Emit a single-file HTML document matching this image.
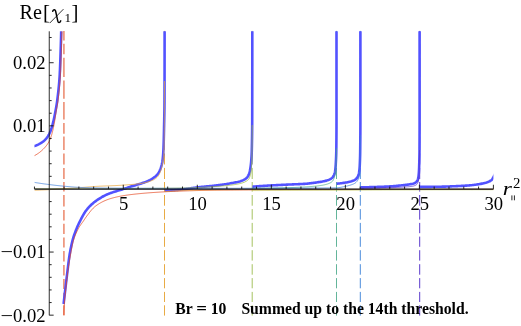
<!DOCTYPE html>
<html><head><meta charset="utf-8"><title>Re[chi1]</title>
<style>
html,body{margin:0;padding:0;background:#fff;}
body{width:521px;height:326px;overflow:hidden;font-family:"Liberation Serif",serif;}
svg{display:block;will-change:transform;}
</style></head><body>
<svg width="521" height="326" viewBox="0 0 521 326">
<rect width="521" height="326" fill="#fff"/>
<path d="M63.9 30.9 V40.6 M63.9 43.7 V54.3 M63.9 57.8 V77 M63.9 80.6 V98.7 M63.9 102 V119.5 M63.9 122.9 V133.8 M63.9 136.6 V150.1 M63.9 153.4 V164.5 M63.9 167.9 V179 M63.9 182 V191.6 M63.9 195 V206.5 M63.9 209.9 V220.4 M63.9 223.7 V234 M63.9 237.4 V247.6 M63.9 251 V261.4 M63.9 265 V275.5 M63.9 278.9 V289.1 M63.9 292.7 V302 M63.9 305.3 V315.6" stroke="#ee957c" stroke-width="1.7" fill="none"/>
<path d="M164.5 30.9 V40.6 M164.5 43.7 V54.3 M164.5 57.8 V77 M164.5 80.6 V98.7 M164.5 102 V119.5 M164.5 122.9 V133.8 M164.5 136.6 V150.1 M164.5 153.4 V164.5 M164.5 167.9 V179 M164.5 182 V191.6 M164.5 195 V205.7 M164.5 209.1 V219.6 M164.5 222.9 V233.2 M164.5 236.6 V246.8 M164.5 250.2 V260.6 M164.5 264.2 V274.7 M164.5 278.1 V288.3 M164.5 291.9 V302 M164.5 305.3 V315.6" stroke="#e8ab45" stroke-width="1.0" fill="none"/>
<path d="M252.2 30.9 V40.6 M252.2 43.7 V54.3 M252.2 57.8 V77 M252.2 80.6 V98.7 M252.2 102 V119.5 M252.2 122.9 V133.8 M252.2 136.6 V150.1 M252.2 153.4 V164.5 M252.2 167.9 V179 M252.2 182 V191.6 M252.2 195 V205.7 M252.2 209.1 V219.6 M252.2 222.9 V233.2 M252.2 236.6 V246.8 M252.2 250.2 V260.6 M252.2 264.2 V274.7 M252.2 278.1 V288.3 M252.2 291.9 V302 M252.2 305.3 V315.6" stroke="#a6c260" stroke-width="1.0" fill="none"/>
<path d="M336.5 30.9 V40.6 M336.5 43.7 V54.3 M336.5 57.8 V77 M336.5 80.6 V98.7 M336.5 102 V119.5 M336.5 122.9 V133.8 M336.5 136.6 V150.1 M336.5 153.4 V164.5 M336.5 167.9 V179 M336.5 182 V191.6 M336.5 195 V205.7 M336.5 209.1 V219.6 M336.5 222.9 V233.2 M336.5 236.6 V246.8 M336.5 250.2 V260.6 M336.5 264.2 V274.7 M336.5 278.1 V288.3 M336.5 291.9 V302 M336.5 305.3 V315.6" stroke="#63b59a" stroke-width="1.0" fill="none"/>
<path d="M360.3 30.9 V40.6 M360.3 43.7 V54.3 M360.3 57.8 V77 M360.3 80.6 V98.7 M360.3 102 V119.5 M360.3 122.9 V133.8 M360.3 136.6 V150.1 M360.3 153.4 V164.5 M360.3 167.9 V179 M360.3 182 V191.6 M360.3 195 V205.7 M360.3 209.1 V219.6 M360.3 222.9 V233.2 M360.3 236.6 V246.8 M360.3 250.2 V260.6 M360.3 264.2 V274.7 M360.3 278.1 V288.3 M360.3 291.9 V302 M360.3 305.3 V315.6" stroke="#4a8bdb" stroke-width="1.0" fill="none"/>
<path d="M419.7 30.9 V40.6 M419.7 43.7 V54.3 M419.7 57.8 V77 M419.7 80.6 V98.7 M419.7 102 V119.5 M419.7 122.9 V133.8 M419.7 136.6 V150.1 M419.7 153.4 V164.5 M419.7 167.9 V179 M419.7 182 V191.6 M419.7 195 V205.7 M419.7 209.1 V219.6 M419.7 222.9 V233.2 M419.7 236.6 V246.8 M419.7 250.2 V260.6 M419.7 264.2 V274.7 M419.7 278.1 V288.3 M419.7 291.9 V302 M419.7 305.3 V315.6" stroke="#5b3acc" stroke-width="1.0" fill="none"/>
<clipPath id="c"><rect x="34.45" y="31.3" width="458.95" height="284"/></clipPath><g clip-path="url(#c)">
<path d="M33.3 146.4 L34.29 146.1 L35.27 145.77 L36.22 145.41 L37.16 145.01 L38.08 144.59 L38.98 144.14 L39.86 143.67 L40.73 143.18 L41.6 142.63 L42.45 142.05 L43.27 141.43 L44.06 140.77 L44.8 140.09 L45.5 139.39 L46.17 138.63 L46.81 137.84 L47.43 137 L48 136.15 L48.53 135.27 L49.01 134.4 L49.45 133.5 L49.87 132.58 L50.26 131.65 L50.64 130.69 L50.99 129.73 L51.32 128.76 L51.64 127.79 L51.94 126.82 L52.22 125.85 L52.49 124.88 L52.75 123.9 L53 122.92 L53.24 121.93 L53.47 120.94 L53.7 119.95 L53.92 118.96 L54.13 117.96 L54.34 116.96 L54.54 115.97 L54.74 114.97 L54.93 113.97 L55.13 112.97 L55.32 111.98 L55.51 110.98 L55.7 109.99 L55.88 108.99 L56.06 107.99 L56.24 106.99 L56.41 105.99 L56.57 104.98 L56.74 103.98 L56.89 102.98 L57.04 101.97 L57.17 100.97 L57.3 99.96 L57.43 98.96 L57.55 97.95 L57.68 96.95 L57.8 95.94 L57.92 94.93 L58.03 93.92 L58.15 92.91 L58.26 91.91 L58.37 90.9 L58.48 89.89 L58.58 88.88 L58.68 87.86 L58.78 86.85 L58.88 85.84 L58.97 84.83 L59.06 83.82 L59.15 82.81 L59.23 81.8 L59.31 80.78 L59.39 79.77 L59.46 78.76 L59.53 77.75 L59.6 76.73 L59.66 75.72 L59.72 74.71 L59.77 73.7 L59.82 72.68 L59.87 71.67 L59.92 70.66 L59.97 69.65 L60.01 68.63 L60.05 67.62 L60.09 66.6 L60.13 65.59 L60.17 64.57 L60.21 63.56 L60.24 62.55 L60.28 61.53 L60.31 60.52 L60.35 59.5 L60.38 58.49 L60.42 57.47 L60.45 56.46 L60.48 55.44 L60.52 54.43 L60.55 53.42 L60.59 52.4 L60.62 51.39 L60.65 50.37 L60.69 49.36 L60.72 48.34 L60.75 47.33 L60.78 46.32 L60.81 45.3 L60.84 44.29 L60.87 43.27 L60.9 42.26 L60.93 41.24 L60.96 40.23 L60.99 39.22 L61.02 38.2 L61.05 37.19 L61.07 36.17 L61.1 35.16 L61.13 34.14 L61.15 33.13 L61.18 32.11 L61.2 31.1" stroke="#5252ff" stroke-width="2.6" fill="none" stroke-linejoin="round" stroke-linecap="butt"/>
<path d="M63.6 304 L63.71 303 L63.83 302 L63.94 301 L64.06 300 L64.17 299 L64.29 298 L64.4 297.01 L64.52 296.01 L64.63 295.01 L64.75 294.01 L64.87 293.01 L64.98 292.01 L65.1 291.01 L65.22 290.01 L65.33 289.01 L65.45 288.01 L65.57 287.01 L65.68 286.02 L65.8 285.02 L65.92 284.02 L66.03 283.02 L66.15 282.02 L66.27 281.02 L66.39 280.02 L66.51 279.02 L66.63 278.02 L66.75 277.03 L66.87 276.03 L66.99 275.03 L67.11 274.03 L67.23 273.03 L67.35 272.03 L67.47 271.03 L67.6 270.04 L67.72 269.04 L67.84 268.04 L67.96 267.04 L68.08 266.04 L68.2 265.04 L68.32 264.04 L68.44 263.04 L68.56 262.04 L68.69 261.05 L68.82 260.05 L68.95 259.05 L69.09 258.06 L69.24 257.06 L69.39 256.07 L69.55 255.08 L69.71 254.08 L69.88 253.09 L70.05 252.1 L70.23 251.11 L70.41 250.11 L70.6 249.12 L70.79 248.13 L70.99 247.14 L71.2 246.16 L71.41 245.17 L71.63 244.19 L71.86 243.21 L72.09 242.24 L72.33 241.26 L72.58 240.29 L72.83 239.33 L73.11 238.36 L73.4 237.4 L73.7 236.44 L74.02 235.49 L74.34 234.53 L74.68 233.58 L75.03 232.63 L75.38 231.69 L75.74 230.75 L76.11 229.81 L76.49 228.87 L76.86 227.94 L77.24 227.01 L77.64 226.09 L78.06 225.18 L78.48 224.26 L78.92 223.36 L79.37 222.45 L79.82 221.55 L80.27 220.66 L80.73 219.76 L81.18 218.86 L81.64 217.95 L82.11 217.06 L82.59 216.16 L83.07 215.28 L83.57 214.4 L84.08 213.54 L84.61 212.69 L85.16 211.86 L85.73 211.04 L86.33 210.23 L86.95 209.44 L87.59 208.65 L88.25 207.88 L88.92 207.13 L89.61 206.4 L90.31 205.69 L91.03 205 L91.77 204.32 L92.53 203.65 L93.3 202.99 L94.08 202.36 L94.88 201.73 L95.69 201.12 L96.51 200.53 L97.33 199.95 L98.15 199.4 L98.99 198.84 L99.84 198.3 L100.7 197.77 L101.57 197.25 L102.45 196.75 L103.34 196.26 L104.23 195.79 L105.13 195.34 L106.03 194.91 L106.94 194.51 L107.86 194.12 L108.8 193.75 L109.74 193.39 L110.69 193.05 L111.64 192.72 L112.6 192.39 L113.55 192.07 L114.51 191.76 L115.47 191.44 L116.43 191.14 L117.39 190.84 L118.35 190.56 L119.32 190.28 L120.28 190 L121.25 189.71 L122.21 189.43 L123.18 189.13 L124.13 188.83 L125.09 188.52 L126.04 188.2 L127 187.87 L127.95 187.54 L128.9 187.22 L129.85 186.9 L130.81 186.58 L131.76 186.27 L132.73 185.98 L133.69 185.69 L134.66 185.42 L135.63 185.14 L136.59 184.87 L137.56 184.6 L138.53 184.31 L139.49 184.02 L140.45 183.72 L141.41 183.41 L142.37 183.1 L143.32 182.78 L144.28 182.45 L145.22 182.11 L146.16 181.75 L147.08 181.36 L148 180.96 L148.92 180.53 L149.83 180.08 L150.72 179.6 L151.6 179.1 L152.44 178.57 L153.26 178.01 L154.09 177.42 L154.91 176.79 L155.71 176.13 L156.46 175.43 L157.15 174.71 L157.76 173.96 L158.31 173.17 L158.82 172.32 L159.31 171.42 L159.76 170.5 L160.18 169.55 L160.55 168.6 L160.88 167.65 L161.18 166.71 L161.46 165.74 L161.72 164.76 L161.95 163.77 L162.16 162.78 L162.33 161.79 L162.47 160.8 L162.59 159.81 L162.71 158.81 L162.82 157.81 L162.92 156.81 L163.01 155.81 L163.1 154.8 L163.17 153.79 L163.24 152.79 L163.31 151.78 L163.36 150.78 L163.41 149.77 L163.46 148.77 L163.5 147.77 L163.54 146.76 L163.58 145.76 L163.61 144.75 L163.65 143.75 L163.68 142.74 L163.71 141.74 L163.74 140.73 L163.77 139.72 L163.8 138.72 L163.82 137.71 L163.85 136.71 L163.87 135.7 L163.9 134.69 L163.92 133.69 L163.94 132.68 L163.96 131.68 L163.99 130.67 L164.01 129.67 L164.03 128.66 L164.05 127.65 L164.07 126.65 L164.1 125.64 L164.12 124.64 L164.14 123.63 L164.16 122.63 L164.19 121.62 L164.21 120.62 L164.23 119.61 L164.25 118.6 L164.27 117.6 L164.29 116.59 L164.31 115.59 L164.33 114.58 L164.35 113.58 L164.36 112.57 L164.38 111.56 L164.4 110.56 L164.41 109.55 L164.43 108.55 L164.44 107.54 L164.45 106.54 L164.46 105.53 L164.47 104.52 L164.48 103.52 L164.49 102.51 L164.49 101.51 L164.5 100.5 L164.5 99.5 L164.5 98.49 L164.51 97.48 L164.51 96.48 L164.51 95.47 L164.52 94.47 L164.52 93.46 L164.52 92.46 L164.52 91.45 L164.53 90.44 L164.53 89.44 L164.53 88.43 L164.53 87.43 L164.54 86.42 L164.54 85.41 L164.54 84.41 L164.54 83.4 L164.55 82.4 L164.55 81.39 L164.55 80.39 L164.55 79.38 L164.55 78.37 L164.56 77.37 L164.56 76.36 L164.56 75.36 L164.56 74.35 L164.56 73.35 L164.57 72.34 L164.57 71.33 L164.57 70.33 L164.57 69.32 L164.57 68.32 L164.57 67.31 L164.57 66.3 L164.58 65.3 L164.58 64.29 L164.58 63.29 L164.58 62.28 L164.58 61.28 L164.58 60.27 L164.58 59.26 L164.59 58.26 L164.59 57.25 L164.59 56.25 L164.59 55.24 L164.59 54.24 L164.59 53.23 L164.59 52.22 L164.59 51.22 L164.59 50.21 L164.59 49.21 L164.59 48.2 L164.59 47.19 L164.6 46.19 L164.6 45.18 L164.6 44.18 L164.6 43.17 L164.6 42.16 L164.6 41.16 L164.6 40.15 L164.6 39.15 L164.6 38.14 L164.6 37.14 L164.6 36.13 L164.6 35.12 L164.6 34.12 L164.6 33.11 L164.6 32.11 L164.6 31.1" stroke="#5252ff" stroke-width="2.6" fill="none" stroke-linejoin="round" stroke-linecap="butt"/>
<path d="M164.8 190.7 L165.81 190.66 L166.81 190.62 L167.81 190.57 L168.82 190.52 L169.82 190.46 L170.83 190.4 L171.83 190.34 L172.83 190.27 L173.83 190.2 L174.83 190.13 L175.83 190.05 L176.84 189.97 L177.84 189.89 L178.84 189.8 L179.83 189.71 L180.83 189.62 L181.83 189.52 L182.83 189.41 L183.82 189.28 L184.82 189.15 L185.81 189.02 L186.81 188.87 L187.8 188.73 L188.8 188.58 L189.79 188.43 L190.79 188.28 L191.78 188.13 L192.77 187.98 L193.77 187.83 L194.76 187.69 L195.76 187.55 L196.76 187.43 L197.75 187.31 L198.75 187.19 L199.75 187.08 L200.75 186.98 L201.75 186.88 L202.75 186.78 L203.75 186.68 L204.75 186.59 L205.75 186.5 L206.75 186.4 L207.75 186.31 L208.75 186.22 L209.75 186.13 L210.75 186.03 L211.75 185.94 L212.75 185.84 L213.75 185.73 L214.75 185.63 L215.75 185.52 L216.74 185.4 L217.74 185.28 L218.74 185.16 L219.73 185.03 L220.73 184.9 L221.72 184.76 L222.72 184.62 L223.71 184.48 L224.71 184.33 L225.7 184.17 L226.69 184.01 L227.69 183.85 L228.67 183.68 L229.66 183.5 L230.65 183.32 L231.64 183.14 L232.65 182.95 L233.66 182.77 L234.67 182.58 L235.68 182.37 L236.68 182.16 L237.68 181.94 L238.66 181.7 L239.63 181.44 L240.57 181.16 L241.5 180.85 L242.4 180.52 L243.28 180.14 L244.2 179.67 L245.12 179.11 L245.99 178.49 L246.78 177.81 L247.44 177.09 L247.95 176.36 L248.38 175.53 L248.77 174.62 L249.12 173.65 L249.42 172.64 L249.69 171.61 L249.92 170.61 L250.11 169.63 L250.29 168.65 L250.45 167.66 L250.6 166.67 L250.74 165.67 L250.86 164.66 L250.98 163.66 L251.08 162.66 L251.16 161.65 L251.24 160.65 L251.32 159.65 L251.39 158.65 L251.45 157.65 L251.52 156.65 L251.57 155.64 L251.63 154.64 L251.67 153.64 L251.72 152.63 L251.75 151.63 L251.78 150.62 L251.81 149.62 L251.83 148.62 L251.85 147.61 L251.88 146.61 L251.9 145.6 L251.92 144.6 L251.94 143.6 L251.96 142.59 L251.98 141.59 L251.99 140.58 L252.01 139.58 L252.03 138.58 L252.04 137.57 L252.06 136.57 L252.07 135.56 L252.09 134.56 L252.1 133.55 L252.11 132.55 L252.12 131.54 L252.13 130.54 L252.14 129.53 L252.15 128.53 L252.16 127.53 L252.17 126.52 L252.17 125.52 L252.18 124.51 L252.19 123.51 L252.19 122.5 L252.2 121.5 L252.2 120.49 L252.2 119.49 L252.2 118.49 L252.21 117.48 L252.21 116.48 L252.21 115.47 L252.21 114.47 L252.22 113.46 L252.22 112.46 L252.22 111.45 L252.22 110.45 L252.22 109.45 L252.23 108.44 L252.23 107.44 L252.23 106.43 L252.23 105.43 L252.23 104.42 L252.24 103.42 L252.24 102.42 L252.24 101.41 L252.24 100.41 L252.24 99.4 L252.24 98.4 L252.25 97.39 L252.25 96.39 L252.25 95.38 L252.25 94.38 L252.25 93.38 L252.25 92.37 L252.26 91.37 L252.26 90.36 L252.26 89.36 L252.26 88.35 L252.26 87.35 L252.26 86.34 L252.26 85.34 L252.27 84.34 L252.27 83.33 L252.27 82.33 L252.27 81.32 L252.27 80.32 L252.27 79.31 L252.27 78.31 L252.27 77.3 L252.28 76.3 L252.28 75.3 L252.28 74.29 L252.28 73.29 L252.28 72.28 L252.28 71.28 L252.28 70.27 L252.28 69.27 L252.28 68.27 L252.28 67.26 L252.29 66.26 L252.29 65.25 L252.29 64.25 L252.29 63.24 L252.29 62.24 L252.29 61.23 L252.29 60.23 L252.29 59.23 L252.29 58.22 L252.29 57.22 L252.29 56.21 L252.29 55.21 L252.29 54.2 L252.29 53.2 L252.29 52.19 L252.3 51.19 L252.3 50.19 L252.3 49.18 L252.3 48.18 L252.3 47.17 L252.3 46.17 L252.3 45.16 L252.3 44.16 L252.3 43.15 L252.3 42.15 L252.3 41.14 L252.3 40.14 L252.3 39.14 L252.3 38.13 L252.3 37.13 L252.3 36.12 L252.3 35.12 L252.3 34.11 L252.3 33.11 L252.3 32.1 L252.3 31.1" stroke="#5252ff" stroke-width="2.6" fill="none" stroke-linejoin="round" stroke-linecap="butt"/>
<path d="M252.4 186.7 L253.4 186.62 L254.4 186.54 L255.41 186.47 L256.41 186.39 L257.41 186.32 L258.42 186.24 L259.42 186.17 L260.42 186.1 L261.42 186.03 L262.43 185.96 L263.43 185.89 L264.43 185.83 L265.44 185.76 L266.44 185.7 L267.44 185.63 L268.45 185.57 L269.45 185.51 L270.45 185.45 L271.46 185.4 L272.46 185.34 L273.46 185.29 L274.47 185.23 L275.47 185.18 L276.48 185.13 L277.48 185.08 L278.48 185.03 L279.49 184.99 L280.49 184.94 L281.5 184.89 L282.5 184.85 L283.5 184.8 L284.51 184.75 L285.51 184.71 L286.52 184.66 L287.52 184.62 L288.53 184.57 L289.53 184.52 L290.53 184.48 L291.54 184.43 L292.54 184.39 L293.55 184.35 L294.55 184.31 L295.56 184.27 L296.56 184.23 L297.57 184.19 L298.57 184.14 L299.58 184.1 L300.58 184.05 L301.59 184 L302.59 183.95 L303.59 183.89 L304.6 183.83 L305.6 183.76 L306.6 183.68 L307.6 183.59 L308.6 183.49 L309.6 183.38 L310.6 183.27 L311.6 183.14 L312.6 183.01 L313.6 182.88 L314.59 182.74 L315.59 182.6 L316.58 182.45 L317.57 182.3 L318.57 182.15 L319.57 182 L320.58 181.85 L321.59 181.68 L322.6 181.5 L323.59 181.31 L324.58 181.11 L325.55 180.88 L326.51 180.63 L327.44 180.35 L328.38 180.02 L329.35 179.61 L330.31 179.13 L331.22 178.58 L332.02 177.98 L332.67 177.34 L333.21 176.61 L333.71 175.74 L334.15 174.78 L334.52 173.78 L334.8 172.78 L334.98 171.81 L335.13 170.84 L335.27 169.85 L335.38 168.85 L335.48 167.84 L335.57 166.83 L335.65 165.81 L335.72 164.8 L335.78 163.79 L335.83 162.79 L335.89 161.78 L335.94 160.78 L335.99 159.78 L336.04 158.77 L336.08 157.77 L336.12 156.76 L336.16 155.76 L336.19 154.75 L336.22 153.75 L336.25 152.74 L336.27 151.74 L336.29 150.73 L336.3 149.73 L336.32 148.72 L336.33 147.72 L336.34 146.71 L336.35 145.71 L336.36 144.7 L336.37 143.7 L336.38 142.69 L336.39 141.68 L336.4 140.68 L336.41 139.67 L336.42 138.67 L336.43 137.66 L336.43 136.66 L336.44 135.65 L336.45 134.65 L336.46 133.64 L336.46 132.64 L336.47 131.63 L336.47 130.63 L336.48 129.62 L336.48 128.62 L336.49 127.61 L336.49 126.6 L336.49 125.6 L336.49 124.59 L336.5 123.59 L336.5 122.58 L336.5 121.58 L336.5 120.57 L336.5 119.57 L336.5 118.56 L336.5 117.56 L336.5 116.55 L336.5 115.55 L336.5 114.54 L336.5 113.54 L336.5 112.53 L336.5 111.52 L336.5 110.52 L336.5 109.51 L336.5 108.51 L336.5 107.5 L336.5 106.5 L336.5 105.49 L336.5 104.49 L336.5 103.48 L336.5 102.48 L336.5 101.47 L336.5 100.47 L336.5 99.46 L336.5 98.46 L336.5 97.45 L336.5 96.45 L336.5 95.44 L336.5 94.43 L336.5 93.43 L336.5 92.42 L336.5 91.42 L336.5 90.41 L336.5 89.41 L336.5 88.4 L336.5 87.4 L336.5 86.39 L336.5 85.39 L336.5 84.38 L336.5 83.38 L336.5 82.37 L336.5 81.37 L336.5 80.36 L336.5 79.36 L336.5 78.35 L336.5 77.34 L336.5 76.34 L336.5 75.33 L336.5 74.33 L336.5 73.32 L336.5 72.32 L336.5 71.31 L336.5 70.31 L336.5 69.3 L336.5 68.3 L336.5 67.29 L336.5 66.29 L336.5 65.28 L336.5 64.28 L336.5 63.27 L336.5 62.26 L336.5 61.26 L336.5 60.25 L336.5 59.25 L336.5 58.24 L336.5 57.24 L336.5 56.23 L336.5 55.23 L336.5 54.22 L336.5 53.22 L336.5 52.21 L336.5 51.21 L336.5 50.2 L336.5 49.2 L336.5 48.19 L336.5 47.19 L336.5 46.18 L336.5 45.17 L336.5 44.17 L336.5 43.16 L336.5 42.16 L336.5 41.15 L336.5 40.15 L336.5 39.14 L336.5 38.14 L336.5 37.13 L336.5 36.13 L336.5 35.12 L336.5 34.12 L336.5 33.11 L336.5 32.11 L336.5 31.1" stroke="#5252ff" stroke-width="2.6" fill="none" stroke-linejoin="round" stroke-linecap="butt"/>
<path d="M336.6 183.7 L337.61 183.62 L338.62 183.53 L339.62 183.42 L340.63 183.31 L341.63 183.18 L342.63 183.05 L343.63 182.91 L344.64 182.76 L345.64 182.59 L346.64 182.41 L347.63 182.21 L348.61 181.99 L349.59 181.75 L350.61 181.49 L351.63 181.19 L352.64 180.86 L353.6 180.5 L354.49 180.08 L355.28 179.62 L356.01 179.03 L356.74 178.28 L357.41 177.42 L357.97 176.5 L358.39 175.57 L358.63 174.67 L358.84 173.72 L359.02 172.75 L359.18 171.74 L359.32 170.72 L359.44 169.69 L359.54 168.65 L359.62 167.62 L359.69 166.6 L359.74 165.59 L359.79 164.58 L359.84 163.57 L359.88 162.56 L359.92 161.55 L359.96 160.54 L359.99 159.53 L360.03 158.52 L360.05 157.51 L360.08 156.5 L360.11 155.48 L360.13 154.47 L360.15 153.46 L360.17 152.45 L360.18 151.44 L360.19 150.42 L360.21 149.41 L360.22 148.4 L360.23 147.39 L360.24 146.38 L360.25 145.37 L360.26 144.36 L360.27 143.35 L360.28 142.34 L360.29 141.32 L360.3 140.31 L360.31 139.3 L360.32 138.29 L360.33 137.28 L360.33 136.27 L360.34 135.26 L360.35 134.25 L360.36 133.23 L360.36 132.22 L360.37 131.21 L360.37 130.2 L360.38 129.19 L360.38 128.18 L360.39 127.17 L360.39 126.16 L360.39 125.14 L360.4 124.13 L360.4 123.12 L360.4 122.11 L360.4 121.1 L360.4 120.09 L360.4 119.08 L360.4 118.07 L360.4 117.05 L360.4 116.04 L360.4 115.03 L360.4 114.02 L360.4 113.01 L360.4 112 L360.4 110.99 L360.4 109.98 L360.4 108.96 L360.4 107.95 L360.4 106.94 L360.4 105.93 L360.4 104.92 L360.4 103.91 L360.4 102.9 L360.4 101.89 L360.4 100.87 L360.4 99.86 L360.4 98.85 L360.4 97.84 L360.4 96.83 L360.4 95.82 L360.4 94.81 L360.4 93.8 L360.4 92.79 L360.4 91.77 L360.4 90.76 L360.4 89.75 L360.4 88.74 L360.4 87.73 L360.4 86.72 L360.4 85.71 L360.4 84.7 L360.4 83.68 L360.4 82.67 L360.4 81.66 L360.4 80.65 L360.4 79.64 L360.4 78.63 L360.4 77.62 L360.4 76.61 L360.4 75.59 L360.4 74.58 L360.4 73.57 L360.4 72.56 L360.4 71.55 L360.4 70.54 L360.4 69.53 L360.4 68.52 L360.4 67.5 L360.4 66.49 L360.4 65.48 L360.4 64.47 L360.4 63.46 L360.4 62.45 L360.4 61.44 L360.4 60.43 L360.4 59.41 L360.4 58.4 L360.4 57.39 L360.4 56.38 L360.4 55.37 L360.4 54.36 L360.4 53.35 L360.4 52.34 L360.4 51.32 L360.4 50.31 L360.4 49.3 L360.4 48.29 L360.4 47.28 L360.4 46.27 L360.4 45.26 L360.4 44.25 L360.4 43.23 L360.4 42.22 L360.4 41.21 L360.4 40.2 L360.4 39.19 L360.4 38.18 L360.4 37.17 L360.4 36.16 L360.4 35.14 L360.4 34.13 L360.4 33.12 L360.4 32.11 L360.4 31.1" stroke="#5252ff" stroke-width="2.6" fill="none" stroke-linejoin="round" stroke-linecap="butt"/>
<path d="M360.5 187.4 L361.51 187.38 L362.52 187.35 L363.53 187.33 L364.53 187.31 L365.54 187.28 L366.55 187.25 L367.56 187.23 L368.57 187.2 L369.58 187.17 L370.59 187.14 L371.59 187.11 L372.6 187.08 L373.61 187.04 L374.62 187.01 L375.63 186.98 L376.64 186.95 L377.64 186.91 L378.65 186.88 L379.66 186.85 L380.67 186.81 L381.68 186.78 L382.69 186.74 L383.7 186.7 L384.7 186.66 L385.71 186.61 L386.72 186.57 L387.73 186.52 L388.73 186.47 L389.74 186.41 L390.75 186.35 L391.75 186.28 L392.76 186.2 L393.76 186.12 L394.77 186.03 L395.77 185.93 L396.78 185.83 L397.78 185.73 L398.78 185.62 L399.79 185.52 L400.79 185.42 L401.8 185.32 L402.8 185.22 L403.81 185.12 L404.81 185.01 L405.81 184.89 L406.81 184.76 L407.81 184.63 L408.81 184.49 L409.81 184.33 L410.8 184.15 L411.79 183.95 L412.78 183.71 L413.76 183.43 L414.68 183.06 L415.55 182.54 L416.33 181.88 L416.99 181.13 L417.55 180.26 L417.88 179.34 L418.13 178.38 L418.34 177.37 L418.5 176.35 L418.62 175.35 L418.71 174.35 L418.8 173.34 L418.88 172.34 L418.94 171.33 L419 170.32 L419.05 169.31 L419.09 168.3 L419.13 167.29 L419.16 166.28 L419.19 165.28 L419.22 164.27 L419.25 163.26 L419.28 162.25 L419.31 161.24 L419.34 160.23 L419.36 159.23 L419.38 158.22 L419.4 157.21 L419.42 156.2 L419.44 155.19 L419.46 154.18 L419.47 153.17 L419.48 152.16 L419.49 151.15 L419.5 150.15 L419.51 149.14 L419.51 148.13 L419.52 147.12 L419.52 146.11 L419.53 145.1 L419.53 144.09 L419.54 143.08 L419.54 142.08 L419.55 141.07 L419.55 140.06 L419.56 139.05 L419.56 138.04 L419.57 137.03 L419.57 136.02 L419.57 135.01 L419.58 134 L419.58 133 L419.58 131.99 L419.59 130.98 L419.59 129.97 L419.59 128.96 L419.59 127.95 L419.59 126.94 L419.6 125.93 L419.6 124.92 L419.6 123.92 L419.6 122.91 L419.6 121.9 L419.6 120.89 L419.6 119.88 L419.6 118.87 L419.6 117.86 L419.6 116.85 L419.6 115.84 L419.6 114.84 L419.6 113.83 L419.6 112.82 L419.6 111.81 L419.6 110.8 L419.6 109.79 L419.6 108.78 L419.6 107.77 L419.6 106.76 L419.6 105.76 L419.6 104.75 L419.6 103.74 L419.6 102.73 L419.6 101.72 L419.6 100.71 L419.6 99.7 L419.6 98.69 L419.6 97.68 L419.6 96.68 L419.6 95.67 L419.6 94.66 L419.6 93.65 L419.6 92.64 L419.6 91.63 L419.6 90.62 L419.6 89.61 L419.6 88.61 L419.6 87.6 L419.6 86.59 L419.6 85.58 L419.6 84.57 L419.6 83.56 L419.6 82.55 L419.6 81.54 L419.6 80.53 L419.6 79.53 L419.6 78.52 L419.6 77.51 L419.6 76.5 L419.6 75.49 L419.6 74.48 L419.6 73.47 L419.6 72.46 L419.6 71.45 L419.6 70.45 L419.6 69.44 L419.6 68.43 L419.6 67.42 L419.6 66.41 L419.6 65.4 L419.6 64.39 L419.6 63.38 L419.6 62.37 L419.6 61.37 L419.6 60.36 L419.6 59.35 L419.6 58.34 L419.6 57.33 L419.6 56.32 L419.6 55.31 L419.6 54.3 L419.6 53.3 L419.6 52.29 L419.6 51.28 L419.6 50.27 L419.6 49.26 L419.6 48.25 L419.6 47.24 L419.6 46.23 L419.6 45.22 L419.6 44.22 L419.6 43.21 L419.6 42.2 L419.6 41.19 L419.6 40.18 L419.6 39.17 L419.6 38.16 L419.6 37.15 L419.6 36.14 L419.6 35.14 L419.6 34.13 L419.6 33.12 L419.6 32.11 L419.6 31.1" stroke="#5252ff" stroke-width="2.6" fill="none" stroke-linejoin="round" stroke-linecap="butt"/>
<path d="M419.8 186.9 L420.82 186.9 L421.84 186.9 L422.85 186.89 L423.87 186.89 L424.89 186.88 L425.91 186.88 L426.92 186.87 L427.94 186.86 L428.96 186.85 L429.98 186.84 L430.99 186.83 L432.01 186.81 L433.03 186.8 L434.05 186.79 L435.06 186.77 L436.08 186.76 L437.1 186.74 L438.12 186.73 L439.13 186.71 L440.15 186.7 L441.17 186.68 L442.18 186.66 L443.2 186.63 L444.22 186.61 L445.24 186.58 L446.25 186.54 L447.27 186.51 L448.29 186.47 L449.3 186.43 L450.32 186.4 L451.34 186.35 L452.35 186.31 L453.37 186.27 L454.39 186.23 L455.4 186.18 L456.42 186.14 L457.44 186.09 L458.46 186.04 L459.47 186 L460.49 185.94 L461.51 185.89 L462.53 185.83 L463.54 185.78 L464.56 185.71 L465.58 185.65 L466.59 185.58 L467.61 185.51 L468.62 185.43 L469.63 185.35 L470.64 185.26 L471.65 185.17 L472.66 185.07 L473.68 184.95 L474.7 184.83 L475.71 184.69 L476.73 184.55 L477.74 184.39 L478.76 184.22 L479.76 184.04 L480.77 183.85 L481.77 183.64 L482.76 183.42 L483.74 183.19 L484.71 182.95 L485.68 182.7 L486.68 182.4 L487.69 182.06 L488.7 181.68 L489.66 181.24 L490.54 180.76 L491.33 180.22 L491.99 179.59 L492.55 178.74 L493.07 177.8 L493.57 176.9 L494.07 176.01 L494.55 175.11 L495 174.2" stroke="#5252ff" stroke-width="2.6" fill="none" stroke-linejoin="round" stroke-linecap="butt"/>
<path d="M34.2 155.8 L35.11 155.3 L36.01 154.79 L36.89 154.25 L37.75 153.69 L38.58 153.11 L39.4 152.51 L40.2 151.89 L40.97 151.26 L41.72 150.61 L42.45 149.94 L43.16 149.26 L43.87 148.54 L44.57 147.8 L45.25 147.03 L45.92 146.23 L46.56 145.42 L47.17 144.6 L47.74 143.75 L48.28 142.9 L48.77 142.04 L49.22 141.17 L49.64 140.27 L50.04 139.34 L50.42 138.4 L50.78 137.44 L51.12 136.47 L51.44 135.49 L51.74 134.52 L52.01 133.55 L52.28 132.58 L52.53 131.61 L52.77 130.63 L53 129.64 L53.21 128.65 L53.42 127.66 L53.63 126.67 L53.82 125.67 L54.02 124.68 L54.2 123.68 L54.39 122.68 L54.57 121.69 L54.74 120.69 L54.91 119.7 L55.07 118.7 L55.23 117.7 L55.38 116.7 L55.53 115.7 L55.68 114.7 L55.83 113.7 L55.98 112.7 L56.13 111.7 L56.29 110.7 L56.45 109.7 L56.62 108.7 L56.8 107.71 L56.98 106.71 L57.17 105.72 L57.35 104.72 L57.53 103.72 L57.7 102.73 L57.86 101.73 L58 100.73 L58.13 99.73 L58.26 98.73 L58.38 97.73 L58.5 96.72 L58.61 95.72 L58.73 94.71 L58.84 93.71 L58.95 92.7 L59.05 91.7 L59.16 90.69 L59.26 89.68 L59.36 88.68 L59.45 87.67 L59.54 86.66 L59.63 85.65 L59.72 84.64 L59.81 83.64 L59.89 82.63 L59.97 81.62 L60.04 80.61 L60.11 79.6 L60.18 78.59 L60.25 77.58 L60.31 76.57 L60.37 75.56 L60.42 74.56 L60.48 73.55 L60.53 72.54 L60.58 71.53 L60.62 70.52 L60.67 69.51 L60.71 68.5 L60.75 67.49 L60.8 66.48 L60.83 65.47 L60.87 64.46 L60.91 63.44 L60.95 62.43 L60.98 61.42 L61.02 60.41 L61.05 59.4 L61.09 58.39 L61.12 57.38 L61.15 56.37 L61.19 55.36 L61.22 54.35 L61.26 53.34 L61.29 52.33 L61.32 51.32 L61.36 50.3 L61.39 49.29 L61.42 48.28 L61.45 47.27 L61.48 46.26 L61.52 45.25 L61.55 44.24 L61.58 43.23 L61.61 42.22 L61.64 41.21 L61.66 40.2 L61.69 39.19 L61.72 38.18 L61.75 37.17 L61.77 36.15 L61.8 35.14 L61.83 34.13 L61.85 33.12 L61.88 32.11 L61.9 31.1" stroke="#e5431c" stroke-width="0.72" fill="none" stroke-linejoin="round"/>
<path d="M63.9 315 L63.91 314 L63.93 312.99 L63.95 311.99 L63.98 310.99 L64.02 309.98 L64.06 308.98 L64.11 307.98 L64.16 306.98 L64.22 305.98 L64.28 304.98 L64.34 303.98 L64.4 302.98 L64.47 301.98 L64.53 300.98 L64.6 299.98 L64.68 298.98 L64.77 297.98 L64.88 296.99 L64.99 295.99 L65.11 295 L65.24 294 L65.36 293 L65.48 292.01 L65.6 291.01 L65.71 290.02 L65.82 289.02 L65.93 288.02 L66.04 287.03 L66.14 286.03 L66.25 285.03 L66.36 284.03 L66.46 283.04 L66.57 282.04 L66.68 281.04 L66.79 280.05 L66.9 279.05 L67.01 278.05 L67.12 277.06 L67.24 276.06 L67.35 275.07 L67.48 274.07 L67.6 273.08 L67.72 272.08 L67.85 271.09 L67.99 270.1 L68.12 269.1 L68.27 268.11 L68.41 267.12 L68.57 266.13 L68.72 265.14 L68.88 264.15 L69.04 263.16 L69.21 262.17 L69.38 261.18 L69.55 260.19 L69.72 259.21 L69.9 258.22 L70.08 257.23 L70.26 256.25 L70.43 255.26 L70.61 254.27 L70.79 253.28 L70.96 252.29 L71.14 251.3 L71.32 250.3 L71.5 249.31 L71.69 248.32 L71.88 247.33 L72.08 246.35 L72.29 245.36 L72.5 244.38 L72.72 243.41 L72.95 242.44 L73.2 241.48 L73.45 240.52 L73.73 239.57 L74.02 238.62 L74.34 237.67 L74.67 236.73 L75.03 235.78 L75.41 234.85 L75.8 233.91 L76.21 232.99 L76.63 232.07 L77.07 231.15 L77.51 230.25 L77.97 229.35 L78.43 228.47 L78.9 227.6 L79.4 226.74 L79.93 225.9 L80.5 225.07 L81.08 224.26 L81.68 223.44 L82.28 222.63 L82.87 221.81 L83.44 220.99 L84 220.16 L84.56 219.32 L85.11 218.48 L85.67 217.65 L86.25 216.83 L86.83 216.02 L87.44 215.22 L88.05 214.42 L88.66 213.6 L89.28 212.79 L89.91 211.99 L90.55 211.19 L91.2 210.4 L91.86 209.64 L92.54 208.89 L93.23 208.17 L93.94 207.49 L94.67 206.84 L95.41 206.23 L96.19 205.64 L96.99 205.07 L97.81 204.5 L98.66 203.96 L99.53 203.42 L100.41 202.91 L101.3 202.41 L102.21 201.94 L103.12 201.48 L104.04 201.05 L104.96 200.63 L105.88 200.25 L106.8 199.88 L107.73 199.54 L108.67 199.21 L109.62 198.89 L110.58 198.59 L111.55 198.3 L112.52 198.03 L113.49 197.77 L114.47 197.51 L115.45 197.27 L116.42 197.04 L117.4 196.82 L118.38 196.61 L119.36 196.4 L120.34 196.2 L121.33 196.02 L122.32 195.84 L123.31 195.67 L124.3 195.51 L125.28 195.36 L126.28 195.21 L127.27 195.07 L128.26 194.93 L129.25 194.8 L130.25 194.67 L131.24 194.55 L132.24 194.43 L133.24 194.31 L134.23 194.2 L135.23 194.09 L136.23 193.98 L137.22 193.88 L138.22 193.77 L139.22 193.68 L140.22 193.58 L141.21 193.48 L142.21 193.39 L143.21 193.3 L144.21 193.21 L145.21 193.13 L146.21 193.05 L147.21 192.96 L148.21 192.88 L149.21 192.81 L150.21 192.73 L151.21 192.66 L152.21 192.59 L153.21 192.52 L154.21 192.45 L155.21 192.39 L156.21 192.32 L157.21 192.26 L158.21 192.2 L159.21 192.14 L160.21 192.07 L161.21 192.01 L162.21 191.96 L163.21 191.9 L164.21 191.84 L165.21 191.78 L166.21 191.73 L167.22 191.67 L168.22 191.62 L169.22 191.57 L170.22 191.52 L171.22 191.47 L172.22 191.42 L173.22 191.37 L174.23 191.33 L175.23 191.29 L176.23 191.24 L177.23 191.2 L178.23 191.16 L179.23 191.13 L180.24 191.09 L181.24 191.06 L182.24 191.02 L183.24 190.99 L184.24 190.95 L185.24 190.92 L186.25 190.89 L187.25 190.85 L188.25 190.82 L189.25 190.79 L190.25 190.76 L191.26 190.73 L192.26 190.69 L193.26 190.66 L194.26 190.63 L195.26 190.6 L196.27 190.57 L197.27 190.55 L198.27 190.52 L199.27 190.49 L200.28 190.46 L201.28 190.44 L202.28 190.41 L203.28 190.39 L204.28 190.36 L205.29 190.34 L206.29 190.32 L207.29 190.3 L208.29 190.28 L209.3 190.26 L210.3 190.24 L211.3 190.22 L212.3 190.2 L213.31 190.18 L214.31 190.17 L215.31 190.15 L216.31 190.14 L217.32 190.13 L218.32 190.12 L219.32 190.11 L220.32 190.1 L221.32 190.09 L222.33 190.08 L223.33 190.07 L224.33 190.06 L225.33 190.05 L226.34 190.05 L227.34 190.04 L228.34 190.03 L229.34 190.02 L230.35 190.01 L231.35 190.01 L232.35 190 L233.35 189.99 L234.36 189.98 L235.36 189.98 L236.36 189.97 L237.36 189.96 L238.36 189.96 L239.37 189.95 L240.37 189.94 L241.37 189.94 L242.37 189.93 L243.38 189.92 L244.38 189.92 L245.38 189.91 L246.38 189.91 L247.39 189.9 L248.39 189.89 L249.39 189.89 L250.39 189.88 L251.4 189.88 L252.4 189.87 L253.4 189.87 L254.4 189.86 L255.41 189.86 L256.41 189.85 L257.41 189.85 L258.41 189.84 L259.42 189.84 L260.42 189.83 L261.42 189.83 L262.42 189.82 L263.43 189.82 L264.43 189.82 L265.43 189.81 L266.43 189.81 L267.44 189.8 L268.44 189.8 L269.44 189.8 L270.44 189.79 L271.45 189.79 L272.45 189.78 L273.45 189.78 L274.45 189.78 L275.46 189.77 L276.46 189.77 L277.46 189.77 L278.46 189.76 L279.47 189.76 L280.47 189.76 L281.47 189.75 L282.47 189.75 L283.48 189.75 L284.48 189.74 L285.48 189.74 L286.48 189.74 L287.49 189.73 L288.49 189.73 L289.49 189.73 L290.49 189.73 L291.5 189.72 L292.5 189.72 L293.5 189.72 L294.5 189.71 L295.51 189.71 L296.51 189.71 L297.51 189.71 L298.51 189.7 L299.52 189.7 L300.52 189.7 L301.52 189.7 L302.52 189.69 L303.53 189.69 L304.53 189.69 L305.53 189.69 L306.53 189.68 L307.54 189.68 L308.54 189.68 L309.54 189.68 L310.54 189.67 L311.55 189.67 L312.55 189.67 L313.55 189.67 L314.55 189.66 L315.56 189.66 L316.56 189.66 L317.56 189.66 L318.56 189.65 L319.57 189.65 L320.57 189.65 L321.57 189.65 L322.57 189.64 L323.58 189.64 L324.58 189.64 L325.58 189.64 L326.58 189.63 L327.59 189.63 L328.59 189.63 L329.59 189.63 L330.59 189.62 L331.6 189.62 L332.6 189.62 L333.6 189.62 L334.6 189.62 L335.61 189.61 L336.61 189.61 L337.61 189.61 L338.61 189.61 L339.62 189.6 L340.62 189.6 L341.62 189.6 L342.62 189.6 L343.63 189.59 L344.63 189.59 L345.63 189.59 L346.63 189.59 L347.64 189.59 L348.64 189.58 L349.64 189.58 L350.64 189.58 L351.65 189.58 L352.65 189.57 L353.65 189.57 L354.65 189.57 L355.66 189.57 L356.66 189.57 L357.66 189.56 L358.66 189.56 L359.67 189.56 L360.67 189.56 L361.67 189.56 L362.67 189.55 L363.68 189.55 L364.68 189.55 L365.68 189.55 L366.68 189.55 L367.69 189.54 L368.69 189.54 L369.69 189.54 L370.69 189.54 L371.69 189.54 L372.7 189.53 L373.7 189.53 L374.7 189.53 L375.7 189.53 L376.71 189.53 L377.71 189.52 L378.71 189.52 L379.71 189.52 L380.72 189.52 L381.72 189.52 L382.72 189.51 L383.72 189.51 L384.73 189.51 L385.73 189.51 L386.73 189.51 L387.73 189.51 L388.74 189.5 L389.74 189.5 L390.74 189.5 L391.74 189.5 L392.75 189.5 L393.75 189.49 L394.75 189.49 L395.75 189.49 L396.76 189.49 L397.76 189.49 L398.76 189.49 L399.76 189.48 L400.77 189.48 L401.77 189.48 L402.77 189.48 L403.77 189.48 L404.78 189.48 L405.78 189.47 L406.78 189.47 L407.78 189.47 L408.79 189.47 L409.79 189.47 L410.79 189.47 L411.79 189.47 L412.8 189.46 L413.8 189.46 L414.8 189.46 L415.8 189.46 L416.81 189.46 L417.81 189.46 L418.81 189.46 L419.81 189.45 L420.82 189.45 L421.82 189.45 L422.82 189.45 L423.82 189.45 L424.83 189.45 L425.83 189.45 L426.83 189.44 L427.83 189.44 L428.84 189.44 L429.84 189.44 L430.84 189.44 L431.84 189.44 L432.85 189.44 L433.85 189.44 L434.85 189.44 L435.85 189.43 L436.86 189.43 L437.86 189.43 L438.86 189.43 L439.86 189.43 L440.87 189.43 L441.87 189.43 L442.87 189.43 L443.87 189.43 L444.88 189.42 L445.88 189.42 L446.88 189.42 L447.88 189.42 L448.89 189.42 L449.89 189.42 L450.89 189.42 L451.89 189.42 L452.9 189.42 L453.9 189.42 L454.9 189.42 L455.9 189.42 L456.91 189.41 L457.91 189.41 L458.91 189.41 L459.91 189.41 L460.92 189.41 L461.92 189.41 L462.92 189.41 L463.92 189.41 L464.93 189.41 L465.93 189.41 L466.93 189.41 L467.93 189.41 L468.94 189.41 L469.94 189.41 L470.94 189.41 L471.94 189.41 L472.95 189.41 L473.95 189.4 L474.95 189.4 L475.95 189.4 L476.96 189.4 L477.96 189.4 L478.96 189.4 L479.96 189.4 L480.97 189.4 L481.97 189.4 L482.97 189.4 L483.97 189.4 L484.98 189.4 L485.98 189.4 L486.98 189.4 L487.98 189.4 L488.99 189.4 L489.99 189.4 L490.99 189.4 L491.99 189.4 L493 189.4 L494 189.4 L495 189.4" stroke="#e5431c" stroke-width="0.72" fill="none" stroke-linejoin="round"/>
<path d="M34.4 190.3 L35.41 190.27 L36.42 190.24 L37.42 190.2 L38.43 190.16 L39.44 190.12 L40.45 190.08 L41.45 190.03 L42.46 189.99 L43.47 189.94 L44.47 189.89 L45.48 189.84 L46.49 189.79 L47.49 189.74 L48.5 189.68 L49.51 189.63 L50.51 189.57 L51.52 189.51 L52.52 189.44 L53.53 189.37 L54.53 189.3 L55.54 189.22 L56.54 189.15 L57.55 189.07 L58.56 189 L59.56 188.93 L60.57 188.86 L61.57 188.79 L62.58 188.73 L63.58 188.66 L64.59 188.6 L65.6 188.53 L66.6 188.47 L67.61 188.4 L68.61 188.34 L69.62 188.28 L70.63 188.21 L71.63 188.15 L72.64 188.09 L73.64 188.02 L74.65 187.96 L75.66 187.89 L76.66 187.83 L77.67 187.76 L78.67 187.69 L79.68 187.62 L80.68 187.55 L81.69 187.48 L82.7 187.4 L83.7 187.33 L84.71 187.25 L85.71 187.17 L86.72 187.08 L87.72 187 L88.73 186.92 L89.73 186.84 L90.74 186.76 L91.74 186.69 L92.75 186.61 L93.75 186.54 L94.76 186.47 L95.76 186.41 L96.77 186.35 L97.77 186.3 L98.78 186.25 L99.79 186.2 L100.79 186.15 L101.8 186.11 L102.81 186.07 L103.82 186.03 L104.82 186 L105.83 185.96 L106.84 185.93 L107.85 185.89 L108.85 185.85 L109.86 185.82 L110.87 185.78 L111.88 185.74 L112.88 185.7 L113.89 185.65 L114.9 185.61 L115.9 185.55 L116.91 185.5 L117.92 185.45 L118.92 185.39 L119.93 185.33 L120.94 185.27 L121.94 185.21 L122.95 185.14 L123.95 185.07 L124.96 185 L125.97 184.93 L126.97 184.86 L127.98 184.78 L128.99 184.71 L130 184.63 L131.01 184.55 L132.01 184.47 L133.02 184.38 L134.03 184.29 L135.03 184.19 L136.03 184.09 L137.03 183.98 L138.03 183.86 L139.02 183.73 L140.01 183.6 L141.01 183.45 L142.01 183.28 L143.01 183.09 L144.02 182.89 L145.02 182.66 L146.02 182.42 L147.02 182.16 L148 181.88 L148.97 181.58 L149.93 181.27 L150.87 180.93 L151.78 180.58 L152.68 180.21 L153.57 179.79 L154.47 179.28 L155.36 178.7 L156.2 178.07 L156.97 177.4 L157.64 176.7 L158.2 175.96 L158.73 175.16 L159.23 174.28 L159.7 173.36 L160.12 172.4 L160.51 171.42 L160.86 170.44 L161.17 169.47 L161.43 168.51 L161.67 167.55 L161.9 166.57 L162.1 165.58 L162.29 164.59 L162.47 163.58 L162.63 162.58 L162.78 161.58 L162.92 160.58 L163.06 159.58 L163.19 158.58 L163.32 157.58 L163.45 156.58 L163.57 155.57 L163.68 154.57 L163.78 153.56 L163.86 152.56 L163.93 151.55 L163.98 150.55 L164.01 149.54 L164.04 148.54 L164.06 147.53 L164.09 146.53 L164.11 145.52 L164.13 144.51 L164.15 143.51 L164.17 142.5 L164.19 141.49 L164.21 140.48 L164.22 139.48 L164.24 138.47 L164.25 137.46 L164.27 136.45 L164.28 135.44 L164.29 134.43 L164.3 133.43 L164.31 132.42 L164.32 131.41 L164.33 130.4 L164.34 129.39 L164.35 128.38 L164.36 127.37 L164.36 126.36 L164.37 125.35 L164.38 124.35 L164.38 123.34 L164.39 122.33 L164.39 121.32 L164.4 120.31 L164.4 119.3 L164.41 118.3 L164.41 117.29 L164.42 116.28 L164.42 115.27 L164.42 114.26 L164.43 113.26 L164.43 112.25 L164.44 111.24 L164.44 110.23 L164.44 109.22 L164.45 108.22 L164.45 107.21 L164.45 106.2 L164.46 105.19 L164.46 104.18 L164.46 103.18 L164.47 102.17 L164.47 101.16 L164.47 100.15 L164.48 99.14 L164.48 98.14 L164.48 97.13 L164.48 96.12 L164.48 95.11 L164.49 94.1 L164.49 93.1 L164.49 92.09 L164.49 91.08 L164.49 90.07 L164.49 89.06 L164.5 88.06 L164.5 87.05 L164.5 86.04 L164.5 85.03 L164.5 84.02 L164.5 83.02 L164.5 82.01 L164.5 81" stroke="#e9a53a" stroke-width="0.72" fill="none" stroke-linejoin="round"/>
<path d="M164.7 191.6 L165.7 191.52 L166.7 191.45 L167.7 191.38 L168.71 191.3 L169.71 191.23 L170.71 191.17 L171.71 191.1 L172.71 191.04 L173.72 190.97 L174.72 190.92 L175.72 190.86 L176.72 190.8 L177.72 190.75 L178.73 190.69 L179.73 190.63 L180.73 190.58 L181.74 190.53 L182.74 190.47 L183.74 190.43 L184.75 190.38 L185.75 190.34 L186.75 190.3 L187.76 190.26 L188.76 190.23 L189.76 190.21 L190.77 190.18 L191.77 190.16 L192.77 190.14 L193.78 190.12 L194.78 190.1 L195.78 190.08 L196.79 190.07 L197.79 190.05 L198.8 190.03 L199.8 190.02 L200.8 190 L201.81 189.98 L202.81 189.97 L203.82 189.96 L204.82 189.94 L205.82 189.93 L206.83 189.92 L207.83 189.91 L208.84 189.9 L209.84 189.88 L210.84 189.87 L211.85 189.86 L212.85 189.86 L213.86 189.85 L214.86 189.84 L215.87 189.83 L216.87 189.82 L217.87 189.81 L218.88 189.81 L219.88 189.8 L220.89 189.79 L221.89 189.79 L222.89 189.78 L223.9 189.78 L224.9 189.77 L225.91 189.76 L226.91 189.76 L227.91 189.75 L228.92 189.75 L229.92 189.74 L230.93 189.73 L231.93 189.73 L232.93 189.72 L233.94 189.72 L234.94 189.71 L235.95 189.71 L236.95 189.7 L237.95 189.7 L238.96 189.69 L239.96 189.69 L240.97 189.68 L241.97 189.68 L242.98 189.67 L243.98 189.67 L244.98 189.66 L245.99 189.66 L246.99 189.66 L248 189.65 L249 189.65 L250 189.64 L251.01 189.64 L252.01 189.63 L253.02 189.63 L254.02 189.63 L255.02 189.62 L256.03 189.62 L257.03 189.61 L258.04 189.61 L259.04 189.61 L260.04 189.6 L261.05 189.6 L262.05 189.6 L263.06 189.59 L264.06 189.59 L265.06 189.59 L266.07 189.58 L267.07 189.58 L268.08 189.58 L269.08 189.57 L270.09 189.57 L271.09 189.57 L272.09 189.56 L273.1 189.56 L274.1 189.56 L275.11 189.56 L276.11 189.55 L277.11 189.55 L278.12 189.55 L279.12 189.54 L280.13 189.54 L281.13 189.54 L282.13 189.54 L283.14 189.53 L284.14 189.53 L285.15 189.53 L286.15 189.53 L287.15 189.53 L288.16 189.52 L289.16 189.52 L290.17 189.52 L291.17 189.52 L292.18 189.51 L293.18 189.51 L294.18 189.51 L295.19 189.51 L296.19 189.51 L297.2 189.51 L298.2 189.5 L299.2 189.5 L300.21 189.5 L301.21 189.5 L302.22 189.5 L303.22 189.49 L304.22 189.49 L305.23 189.49 L306.23 189.49 L307.24 189.49 L308.24 189.49 L309.24 189.48 L310.25 189.48 L311.25 189.48 L312.26 189.48 L313.26 189.48 L314.27 189.48 L315.27 189.47 L316.27 189.47 L317.28 189.47 L318.28 189.47 L319.29 189.47 L320.29 189.47 L321.29 189.46 L322.3 189.46 L323.3 189.46 L324.31 189.46 L325.31 189.46 L326.31 189.46 L327.32 189.45 L328.32 189.45 L329.33 189.45 L330.33 189.45 L331.33 189.45 L332.34 189.45 L333.34 189.44 L334.35 189.44 L335.35 189.44 L336.35 189.44 L337.36 189.44 L338.36 189.44 L339.37 189.43 L340.37 189.43 L341.38 189.43 L342.38 189.43 L343.38 189.43 L344.39 189.43 L345.39 189.43 L346.4 189.42 L347.4 189.42 L348.4 189.42 L349.41 189.42 L350.41 189.42 L351.42 189.42 L352.42 189.42 L353.42 189.41 L354.43 189.41 L355.43 189.41 L356.44 189.41 L357.44 189.41 L358.44 189.41 L359.45 189.41 L360.45 189.4 L361.46 189.4 L362.46 189.4 L363.46 189.4 L364.47 189.4 L365.47 189.4 L366.48 189.4 L367.48 189.39 L368.49 189.39 L369.49 189.39 L370.49 189.39 L371.5 189.39 L372.5 189.39 L373.51 189.39 L374.51 189.38 L375.51 189.38 L376.52 189.38 L377.52 189.38 L378.53 189.38 L379.53 189.38 L380.53 189.38 L381.54 189.38 L382.54 189.37 L383.55 189.37 L384.55 189.37 L385.55 189.37 L386.56 189.37 L387.56 189.37 L388.57 189.37 L389.57 189.37 L390.58 189.37 L391.58 189.36 L392.58 189.36 L393.59 189.36 L394.59 189.36 L395.6 189.36 L396.6 189.36 L397.6 189.36 L398.61 189.36 L399.61 189.36 L400.62 189.35 L401.62 189.35 L402.62 189.35 L403.63 189.35 L404.63 189.35 L405.64 189.35 L406.64 189.35 L407.64 189.35 L408.65 189.35 L409.65 189.34 L410.66 189.34 L411.66 189.34 L412.67 189.34 L413.67 189.34 L414.67 189.34 L415.68 189.34 L416.68 189.34 L417.69 189.34 L418.69 189.34 L419.69 189.34 L420.7 189.33 L421.7 189.33 L422.71 189.33 L423.71 189.33 L424.71 189.33 L425.72 189.33 L426.72 189.33 L427.73 189.33 L428.73 189.33 L429.73 189.33 L430.74 189.33 L431.74 189.33 L432.75 189.32 L433.75 189.32 L434.75 189.32 L435.76 189.32 L436.76 189.32 L437.77 189.32 L438.77 189.32 L439.78 189.32 L440.78 189.32 L441.78 189.32 L442.79 189.32 L443.79 189.32 L444.8 189.32 L445.8 189.32 L446.8 189.31 L447.81 189.31 L448.81 189.31 L449.82 189.31 L450.82 189.31 L451.82 189.31 L452.83 189.31 L453.83 189.31 L454.84 189.31 L455.84 189.31 L456.84 189.31 L457.85 189.31 L458.85 189.31 L459.86 189.31 L460.86 189.31 L461.87 189.31 L462.87 189.31 L463.87 189.31 L464.88 189.31 L465.88 189.31 L466.89 189.31 L467.89 189.3 L468.89 189.3 L469.9 189.3 L470.9 189.3 L471.91 189.3 L472.91 189.3 L473.91 189.3 L474.92 189.3 L475.92 189.3 L476.93 189.3 L477.93 189.3 L478.93 189.3 L479.94 189.3 L480.94 189.3 L481.95 189.3 L482.95 189.3 L483.96 189.3 L484.96 189.3 L485.96 189.3 L486.97 189.3 L487.97 189.3 L488.98 189.3 L489.98 189.3 L490.98 189.3 L491.99 189.3 L492.99 189.3 L494 189.3 L495 189.3" stroke="#e9a53a" stroke-width="0.72" fill="none" stroke-linejoin="round"/>
<path d="M34.4 188.7 L35.4 188.7 L36.41 188.7 L37.41 188.7 L38.42 188.7 L39.42 188.7 L40.43 188.7 L41.43 188.7 L42.44 188.7 L43.44 188.7 L44.44 188.7 L45.45 188.7 L46.45 188.7 L47.46 188.7 L48.46 188.7 L49.47 188.7 L50.47 188.7 L51.47 188.7 L52.48 188.69 L53.48 188.69 L54.49 188.69 L55.49 188.69 L56.5 188.69 L57.5 188.69 L58.51 188.69 L59.51 188.69 L60.51 188.69 L61.52 188.69 L62.52 188.69 L63.53 188.69 L64.53 188.69 L65.54 188.69 L66.54 188.68 L67.55 188.68 L68.55 188.68 L69.55 188.68 L70.56 188.68 L71.56 188.68 L72.57 188.68 L73.57 188.68 L74.58 188.68 L75.58 188.67 L76.58 188.67 L77.59 188.67 L78.59 188.67 L79.6 188.67 L80.6 188.67 L81.61 188.67 L82.61 188.67 L83.62 188.66 L84.62 188.66 L85.62 188.66 L86.63 188.66 L87.63 188.66 L88.64 188.66 L89.64 188.66 L90.65 188.65 L91.65 188.65 L92.66 188.65 L93.66 188.65 L94.66 188.65 L95.67 188.65 L96.67 188.64 L97.68 188.64 L98.68 188.64 L99.69 188.64 L100.69 188.64 L101.69 188.64 L102.7 188.63 L103.7 188.63 L104.71 188.63 L105.71 188.63 L106.72 188.63 L107.72 188.62 L108.73 188.62 L109.73 188.62 L110.73 188.62 L111.74 188.62 L112.74 188.62 L113.75 188.61 L114.75 188.61 L115.76 188.61 L116.76 188.61 L117.76 188.6 L118.77 188.6 L119.77 188.6 L120.78 188.6 L121.78 188.6 L122.79 188.59 L123.79 188.59 L124.8 188.59 L125.8 188.58 L126.8 188.58 L127.81 188.58 L128.81 188.57 L129.82 188.57 L130.82 188.57 L131.83 188.56 L132.83 188.56 L133.84 188.55 L134.84 188.55 L135.84 188.54 L136.85 188.54 L137.85 188.53 L138.86 188.52 L139.86 188.52 L140.87 188.51 L141.87 188.51 L142.88 188.5 L143.88 188.49 L144.89 188.48 L145.89 188.48 L146.89 188.47 L147.9 188.46 L148.9 188.45 L149.91 188.45 L150.91 188.44 L151.92 188.43 L152.92 188.42 L153.93 188.41 L154.93 188.4 L155.93 188.39 L156.94 188.38 L157.94 188.37 L158.95 188.36 L159.95 188.35 L160.96 188.34 L161.96 188.33 L162.96 188.32 L163.97 188.31 L164.97 188.3 L165.98 188.29 L166.98 188.27 L167.99 188.26 L168.99 188.25 L169.99 188.24 L171 188.22 L172 188.21 L173.01 188.2 L174.01 188.19 L175.01 188.17 L176.02 188.16 L177.02 188.14 L178.03 188.13 L179.03 188.11 L180.03 188.1 L181.04 188.08 L182.04 188.06 L183.05 188.04 L184.05 188.02 L185.06 188 L186.06 187.97 L187.06 187.94 L188.07 187.91 L189.07 187.88 L190.08 187.84 L191.08 187.81 L192.08 187.77 L193.09 187.73 L194.09 187.69 L195.1 187.65 L196.1 187.6 L197.1 187.56 L198.11 187.51 L199.11 187.47 L200.11 187.42 L201.12 187.37 L202.12 187.32 L203.12 187.27 L204.13 187.22 L205.13 187.16 L206.13 187.11 L207.14 187.06 L208.14 187 L209.14 186.95 L210.14 186.89 L211.14 186.84 L212.15 186.78 L213.15 186.71 L214.15 186.65 L215.16 186.58 L216.16 186.51 L217.16 186.44 L218.17 186.37 L219.17 186.29 L220.17 186.21 L221.18 186.12 L222.18 186.04 L223.18 185.95 L224.18 185.85 L225.18 185.75 L226.18 185.65 L227.17 185.55 L228.17 185.44 L229.17 185.32 L230.16 185.2 L231.16 185.08 L232.16 184.95 L233.17 184.81 L234.19 184.67 L235.2 184.51 L236.21 184.34 L237.21 184.16 L238.21 183.96 L239.19 183.75 L240.16 183.52 L241.11 183.27 L242.05 183 L242.96 182.71 L243.93 182.35 L244.93 181.91 L245.92 181.4 L246.86 180.83 L247.71 180.22 L248.42 179.57 L248.94 178.9 L249.32 178.17 L249.67 177.34 L249.99 176.43 L250.29 175.45 L250.55 174.42 L250.78 173.36 L250.97 172.29 L251.13 171.22 L251.24 170.18 L251.32 169.19 L251.39 168.2 L251.45 167.2 L251.5 166.21 L251.56 165.21 L251.61 164.21 L251.65 163.2 L251.69 162.2 L251.73 161.19 L251.77 160.19 L251.8 159.18 L251.83 158.17 L251.86 157.16 L251.89 156.15 L251.91 155.14 L251.93 154.14 L251.95 153.13 L251.97 152.12 L251.98 151.11 L252 150.11 L252.01 149.1 L252.03 148.1 L252.04 147.1 L252.05 146.09 L252.06 145.09 L252.07 144.08 L252.09 143.08 L252.1 142.08 L252.11 141.07 L252.12 140.07 L252.13 139.06 L252.14 138.06 L252.15 137.05 L252.15 136.05 L252.16 135.05 L252.17 134.04 L252.17 133.04 L252.18 132.03 L252.19 131.03 L252.19 130.02 L252.19 129.02 L252.2 128.01 L252.2 127.01 L252.2 126 L252.2 125" stroke="#9ebb45" stroke-width="0.72" fill="none" stroke-linejoin="round"/>
<path d="M252.5 190.6 L253.51 190.59 L254.51 190.59 L255.52 190.58 L256.52 190.57 L257.53 190.56 L258.54 190.56 L259.54 190.55 L260.55 190.54 L261.56 190.54 L262.56 190.53 L263.57 190.52 L264.57 190.51 L265.58 190.51 L266.59 190.5 L267.59 190.49 L268.6 190.49 L269.61 190.48 L270.61 190.47 L271.62 190.47 L272.62 190.46 L273.63 190.45 L274.64 190.45 L275.64 190.44 L276.65 190.43 L277.66 190.43 L278.66 190.42 L279.67 190.41 L280.67 190.41 L281.68 190.4 L282.69 190.39 L283.69 190.39 L284.7 190.38 L285.7 190.38 L286.71 190.37 L287.72 190.37 L288.72 190.36 L289.73 190.35 L290.74 190.35 L291.74 190.34 L292.75 190.34 L293.75 190.33 L294.76 190.33 L295.77 190.32 L296.77 190.32 L297.78 190.31 L298.79 190.31 L299.79 190.3 L300.8 190.3 L301.8 190.29 L302.81 190.29 L303.82 190.28 L304.82 190.28 L305.83 190.27 L306.84 190.27 L307.84 190.26 L308.85 190.26 L309.85 190.25 L310.86 190.25 L311.87 190.25 L312.87 190.24 L313.88 190.24 L314.89 190.23 L315.89 190.23 L316.9 190.22 L317.9 190.22 L318.91 190.22 L319.92 190.21 L320.92 190.21 L321.93 190.2 L322.94 190.2 L323.94 190.19 L324.95 190.19 L325.95 190.19 L326.96 190.18 L327.97 190.18 L328.97 190.17 L329.98 190.17 L330.98 190.17 L331.99 190.16 L333 190.16 L334 190.16 L335.01 190.15 L336.02 190.15 L337.02 190.14 L338.03 190.14 L339.03 190.14 L340.04 190.13 L341.05 190.13 L342.05 190.13 L343.06 190.12 L344.07 190.12 L345.07 190.11 L346.08 190.11 L347.08 190.11 L348.09 190.1 L349.1 190.1 L350.1 190.1 L351.11 190.09 L352.12 190.09 L353.12 190.09 L354.13 190.08 L355.13 190.08 L356.14 190.08 L357.15 190.07 L358.15 190.07 L359.16 190.07 L360.17 190.06 L361.17 190.06 L362.18 190.06 L363.18 190.05 L364.19 190.05 L365.2 190.05 L366.2 190.04 L367.21 190.04 L368.22 190.04 L369.22 190.03 L370.23 190.03 L371.23 190.03 L372.24 190.02 L373.25 190.02 L374.25 190.02 L375.26 190.01 L376.27 190.01 L377.27 190.01 L378.28 190.01 L379.28 190 L380.29 190 L381.3 190 L382.3 189.99 L383.31 189.99 L384.31 189.99 L385.32 189.98 L386.33 189.98 L387.33 189.98 L388.34 189.97 L389.35 189.97 L390.35 189.97 L391.36 189.97 L392.36 189.96 L393.37 189.96 L394.38 189.96 L395.38 189.95 L396.39 189.95 L397.4 189.95 L398.4 189.94 L399.41 189.94 L400.41 189.94 L401.42 189.93 L402.43 189.93 L403.43 189.93 L404.44 189.93 L405.45 189.92 L406.45 189.92 L407.46 189.92 L408.46 189.91 L409.47 189.91 L410.48 189.91 L411.48 189.91 L412.49 189.9 L413.5 189.9 L414.5 189.9 L415.51 189.89 L416.51 189.89 L417.52 189.89 L418.53 189.89 L419.53 189.88 L420.54 189.88 L421.55 189.88 L422.55 189.87 L423.56 189.87 L424.56 189.87 L425.57 189.87 L426.58 189.86 L427.58 189.86 L428.59 189.86 L429.6 189.85 L430.6 189.85 L431.61 189.85 L432.61 189.85 L433.62 189.84 L434.63 189.84 L435.63 189.84 L436.64 189.84 L437.64 189.83 L438.65 189.83 L439.66 189.83 L440.66 189.82 L441.67 189.82 L442.68 189.82 L443.68 189.82 L444.69 189.81 L445.69 189.81 L446.7 189.81 L447.71 189.81 L448.71 189.8 L449.72 189.8 L450.73 189.8 L451.73 189.8 L452.74 189.79 L453.74 189.79 L454.75 189.79 L455.76 189.79 L456.76 189.78 L457.77 189.78 L458.78 189.78 L459.78 189.78 L460.79 189.77 L461.79 189.77 L462.8 189.77 L463.81 189.77 L464.81 189.76 L465.82 189.76 L466.83 189.76 L467.83 189.76 L468.84 189.76 L469.84 189.75 L470.85 189.75 L471.86 189.75 L472.86 189.75 L473.87 189.74 L474.88 189.74 L475.88 189.74 L476.89 189.74 L477.89 189.74 L478.9 189.73 L479.91 189.73 L480.91 189.73 L481.92 189.73 L482.93 189.72 L483.93 189.72 L484.94 189.72 L485.94 189.72 L486.95 189.72 L487.96 189.71 L488.96 189.71 L489.97 189.71 L490.98 189.71 L491.98 189.71 L492.99 189.7 L493.99 189.7 L495 189.7" stroke="#c3cf62" stroke-width="0.72" fill="none" stroke-linejoin="round"/>
<path d="M252.4 188.2 L253.42 188.2 L254.43 188.2 L255.45 188.19 L256.47 188.19 L257.48 188.19 L258.5 188.18 L259.51 188.17 L260.53 188.16 L261.55 188.15 L262.56 188.14 L263.58 188.13 L264.59 188.12 L265.61 188.11 L266.63 188.09 L267.64 188.08 L268.66 188.06 L269.67 188.05 L270.69 188.03 L271.7 188.01 L272.72 187.99 L273.73 187.97 L274.75 187.96 L275.76 187.93 L276.78 187.91 L277.8 187.89 L278.81 187.87 L279.83 187.85 L280.84 187.82 L281.86 187.8 L282.87 187.78 L283.89 187.75 L284.9 187.73 L285.92 187.7 L286.93 187.68 L287.95 187.65 L288.96 187.63 L289.98 187.6 L290.99 187.57 L292.01 187.54 L293.02 187.51 L294.04 187.48 L295.05 187.44 L296.07 187.4 L297.09 187.36 L298.1 187.32 L299.12 187.27 L300.14 187.22 L301.15 187.17 L302.17 187.12 L303.19 187.06 L304.2 187 L305.22 186.94 L306.23 186.88 L307.24 186.81 L308.26 186.74 L309.27 186.67 L310.28 186.59 L311.29 186.51 L312.3 186.43 L313.31 186.35 L314.32 186.26 L315.33 186.17 L316.34 186.07 L317.36 185.96 L318.39 185.84 L319.42 185.7 L320.45 185.56 L321.47 185.39 L322.48 185.22 L323.49 185.02 L324.48 184.81 L325.46 184.59 L326.42 184.34 L327.35 184.07 L328.29 183.76 L329.29 183.35 L330.29 182.85 L331.23 182.27 L332.06 181.64 L332.73 180.98 L333.19 180.28 L333.58 179.48 L333.94 178.59 L334.27 177.61 L334.56 176.58 L334.82 175.52 L335.03 174.45 L335.22 173.38 L335.36 172.34 L335.47 171.35 L335.57 170.34 L335.67 169.34 L335.76 168.33 L335.84 167.31 L335.91 166.3 L335.97 165.28 L336.03 164.26 L336.08 163.24 L336.13 162.22 L336.16 161.2 L336.19 160.19 L336.22 159.17 L336.25 158.16 L336.27 157.14 L336.3 156.13 L336.32 155.11 L336.34 154.1 L336.36 153.08 L336.37 152.06 L336.38 151.05 L336.39 150.03 L336.4 149.02 L336.4 148" stroke="#47a98a" stroke-width="0.72" fill="none" stroke-linejoin="round"/>
<path d="M34.4 182.4 L35.39 182.56 L36.38 182.72 L37.37 182.88 L38.36 183.03 L39.35 183.19 L40.34 183.34 L41.34 183.48 L42.33 183.63 L43.32 183.77 L44.31 183.91 L45.31 184.04 L46.3 184.17 L47.3 184.31 L48.29 184.44 L49.28 184.57 L50.28 184.69 L51.27 184.82 L52.27 184.94 L53.27 185.06 L54.26 185.18 L55.26 185.3 L56.25 185.41 L57.25 185.52 L58.25 185.62 L59.25 185.73 L60.24 185.82 L61.24 185.92 L62.24 186.02 L63.24 186.12 L64.23 186.21 L65.23 186.31 L66.23 186.41 L67.23 186.5 L68.23 186.59 L69.23 186.68 L70.23 186.77 L71.23 186.85 L72.23 186.93 L73.23 187.01 L74.23 187.08 L75.23 187.15 L76.23 187.21 L77.23 187.27 L78.23 187.32 L79.23 187.37 L80.23 187.41 L81.24 187.45 L82.24 187.48 L83.24 187.52 L84.24 187.55 L85.24 187.59 L86.24 187.62 L87.25 187.65 L88.25 187.68 L89.25 187.72 L90.25 187.75 L91.25 187.77 L92.26 187.8 L93.26 187.83 L94.26 187.85 L95.27 187.88 L96.27 187.9 L97.27 187.93 L98.27 187.95 L99.28 187.97 L100.28 187.99 L101.28 188 L102.29 188.02 L103.29 188.04 L104.29 188.05 L105.3 188.06 L106.3 188.07 L107.3 188.08 L108.3 188.09 L109.31 188.1 L110.31 188.1 L111.31 188.11 L112.31 188.11 L113.32 188.12 L114.32 188.12 L115.32 188.12 L116.32 188.13 L117.33 188.13 L118.33 188.14 L119.33 188.14 L120.34 188.15 L121.34 188.15 L122.34 188.15 L123.34 188.16 L124.35 188.16 L125.35 188.17 L126.35 188.17 L127.35 188.17 L128.36 188.18 L129.36 188.18 L130.36 188.18 L131.36 188.19 L132.37 188.19 L133.37 188.19 L134.37 188.2 L135.38 188.2 L136.38 188.2 L137.38 188.21 L138.38 188.21 L139.39 188.21 L140.39 188.22 L141.39 188.22 L142.4 188.22 L143.4 188.22 L144.4 188.23 L145.4 188.23 L146.41 188.23 L147.41 188.24 L148.41 188.24 L149.41 188.24 L150.42 188.24 L151.42 188.24 L152.42 188.25 L153.43 188.25 L154.43 188.25 L155.43 188.25 L156.43 188.26 L157.44 188.26 L158.44 188.26 L159.44 188.26 L160.45 188.26 L161.45 188.27 L162.45 188.27 L163.45 188.27 L164.46 188.27 L165.46 188.27 L166.46 188.27 L167.46 188.28 L168.47 188.28 L169.47 188.28 L170.47 188.28 L171.48 188.28 L172.48 188.28 L173.48 188.28 L174.48 188.29 L175.49 188.29 L176.49 188.29 L177.49 188.29 L178.5 188.29 L179.5 188.29 L180.5 188.29 L181.5 188.29 L182.51 188.29 L183.51 188.29 L184.51 188.29 L185.51 188.3 L186.52 188.3 L187.52 188.3 L188.52 188.3 L189.53 188.3 L190.53 188.3 L191.53 188.3 L192.53 188.3 L193.54 188.3 L194.54 188.3 L195.54 188.3 L196.55 188.3 L197.55 188.3 L198.55 188.3 L199.55 188.3 L200.56 188.3 L201.56 188.3 L202.56 188.3 L203.57 188.3 L204.57 188.3 L205.57 188.3 L206.57 188.3 L207.58 188.3 L208.58 188.3 L209.59 188.3 L210.59 188.3 L211.59 188.3 L212.6 188.3 L213.6 188.3 L214.6 188.3 L215.61 188.3 L216.61 188.3 L217.62 188.3 L218.62 188.3 L219.62 188.3 L220.63 188.3 L221.63 188.3 L222.64 188.3 L223.64 188.3 L224.65 188.29 L225.65 188.29 L226.66 188.29 L227.66 188.29 L228.66 188.29 L229.67 188.29 L230.67 188.29 L231.68 188.29 L232.68 188.29 L233.69 188.29 L234.69 188.29 L235.7 188.29 L236.7 188.29 L237.71 188.29 L238.71 188.29 L239.72 188.28 L240.72 188.28 L241.73 188.28 L242.73 188.28 L243.74 188.28 L244.74 188.28 L245.75 188.28 L246.75 188.28 L247.76 188.27 L248.76 188.27 L249.77 188.27 L250.77 188.27 L251.78 188.27 L252.78 188.27 L253.79 188.27 L254.79 188.26 L255.8 188.26 L256.8 188.26 L257.81 188.26 L258.81 188.26 L259.81 188.26 L260.82 188.25 L261.82 188.25 L262.83 188.25 L263.83 188.25 L264.84 188.25 L265.84 188.24 L266.85 188.24 L267.85 188.24 L268.86 188.24 L269.86 188.23 L270.86 188.23 L271.87 188.23 L272.87 188.23 L273.88 188.22 L274.88 188.22 L275.88 188.22 L276.89 188.21 L277.89 188.21 L278.9 188.21 L279.9 188.21 L280.9 188.2 L281.91 188.2 L282.91 188.2 L283.91 188.19 L284.92 188.19 L285.92 188.19 L286.92 188.18 L287.93 188.18 L288.93 188.17 L289.93 188.17 L290.94 188.17 L291.94 188.16 L292.94 188.16 L293.94 188.15 L294.95 188.15 L295.95 188.15 L296.95 188.14 L297.95 188.14 L298.95 188.13 L299.96 188.13 L300.96 188.12 L301.96 188.12 L302.96 188.11 L303.96 188.11 L304.96 188.1 L305.96 188.1 L306.97 188.09 L307.97 188.09 L308.97 188.08 L309.97 188.08 L310.97 188.07 L311.97 188.07 L312.97 188.06 L313.97 188.05 L314.97 188.05 L315.97 188.04 L316.97 188.04 L317.97 188.03 L318.97 188.02 L319.97 188.02 L320.96 188.01 L321.96 188 L322.96 188 L323.96 187.99 L324.96 187.98 L325.96 187.98 L326.95 187.97 L327.95 187.96 L328.95 187.95 L329.95 187.95 L330.94 187.94 L331.94 187.93 L332.94 187.92 L333.93 187.92 L334.93 187.91 L335.93 187.9 L336.92 187.87 L337.92 187.78 L338.92 187.64 L339.91 187.48 L340.9 187.3 L341.89 187.11 L342.88 186.92 L343.86 186.74 L344.85 186.54 L345.83 186.33 L346.81 186.09 L347.78 185.84 L348.74 185.57 L349.71 185.29 L350.71 184.99 L351.71 184.67 L352.7 184.32 L353.64 183.93 L354.51 183.5 L355.28 183.01 L356 182.41 L356.72 181.67 L357.38 180.81 L357.94 179.9 L358.35 178.98 L358.6 178.08 L358.8 177.16 L358.98 176.2 L359.14 175.22 L359.28 174.22 L359.41 173.2 L359.52 172.17 L359.61 171.14 L359.69 170.12 L359.75 169.09 L359.8 168.09 L359.84 167.09 L359.87 166.09 L359.91 165.09 L359.94 164.09 L359.97 163.08 L360 162.08 L360.02 161.08 L360.04 160.08 L360.07 159.07 L360.09 158.07 L360.1 157.07 L360.12 156.06 L360.14 155.06 L360.15 154.05 L360.17 153.05 L360.18 152.05 L360.19 151.04 L360.2 150.04 L360.21 149.04 L360.22 148.04 L360.23 147.03 L360.24 146.03 L360.25 145.03 L360.26 144.02 L360.26 143.02 L360.27 142.02 L360.28 141.02 L360.29 140.01 L360.29 139.01 L360.29 138.01 L360.3 137.01 L360.3 136 L360.3 135" stroke="#3f7fd9" stroke-width="0.72" fill="none" stroke-linejoin="round"/>
<path d="M360.5 188.2 L361.52 188.2 L362.54 188.2 L363.55 188.19 L364.57 188.19 L365.59 188.18 L366.61 188.17 L367.62 188.16 L368.64 188.15 L369.66 188.14 L370.67 188.12 L371.69 188.11 L372.71 188.09 L373.73 188.07 L374.74 188.06 L375.76 188.04 L376.78 188.02 L377.79 188 L378.81 187.97 L379.83 187.95 L380.84 187.93 L381.86 187.91 L382.88 187.88 L383.89 187.86 L384.91 187.83 L385.93 187.81 L386.94 187.78 L387.96 187.75 L388.98 187.73 L389.99 187.7 L391.01 187.67 L392.03 187.64 L393.04 187.61 L394.06 187.57 L395.08 187.53 L396.1 187.49 L397.11 187.44 L398.13 187.4 L399.14 187.35 L400.16 187.29 L401.18 187.24 L402.19 187.18 L403.21 187.12 L404.22 187.05 L405.24 186.98 L406.26 186.92 L407.28 186.84 L408.31 186.76 L409.33 186.67 L410.34 186.56 L411.35 186.43 L412.34 186.28 L413.32 186.09 L414.36 185.79 L415.37 185.38 L416.24 184.89 L416.89 184.31 L417.46 183.49 L417.95 182.5 L418.3 181.48 L418.48 180.51 L418.63 179.53 L418.75 178.53 L418.87 177.52 L418.96 176.5 L419.04 175.46 L419.1 174.43 L419.15 173.4 L419.19 172.38 L419.22 171.36 L419.24 170.35 L419.27 169.33 L419.29 168.31 L419.31 167.3 L419.33 166.28 L419.35 165.27 L419.37 164.25 L419.39 163.23 L419.4 162.22 L419.42 161.2 L419.43 160.18 L419.45 159.17 L419.46 158.15 L419.47 157.13 L419.48 156.11 L419.48 155.1 L419.49 154.08 L419.49 153.06 L419.5 152.04 L419.5 151.02 L419.5 150" stroke="#5a35c8" stroke-width="0.72" fill="none" stroke-linejoin="round"/>
</g>
<g stroke="#1a1a1a" fill="none">
<path d="M34.45 189.15 H493.4" stroke-width="1.25" stroke="#0c0c18"/>
<path d="M49.25 31.3 V315.3" stroke-width="0.9"/>
<path d="M34.45 188.95 v-2.4 M64.06 188.95 v-2.4 M78.86 188.95 v-2.4 M93.66 188.95 v-2.4 M108.47 188.95 v-2.4 M123.28 188.95 v-4.2 M138.08 188.95 v-2.4 M152.88 188.95 v-2.4 M167.69 188.95 v-2.4 M182.5 188.95 v-2.4 M197.3 188.95 v-4.2 M212.1 188.95 v-2.4 M226.91 188.95 v-2.4 M241.72 188.95 v-2.4 M256.52 188.95 v-2.4 M271.32 188.95 v-4.2 M286.13 188.95 v-2.4 M300.94 188.95 v-2.4 M315.74 188.95 v-2.4 M330.55 188.95 v-2.4 M345.35 188.95 v-4.2 M360.15 188.95 v-2.4 M374.96 188.95 v-2.4 M389.76 188.95 v-2.4 M404.57 188.95 v-2.4 M419.38 188.95 v-4.2 M434.18 188.95 v-2.4 M448.99 188.95 v-2.4 M463.79 188.95 v-2.4 M478.59 188.95 v-2.4 M493.4 188.95 v-4.2" stroke-width="0.9" stroke="#111"/>
<path d="M49.25 315.17 h4.4 M49.25 302.55 h2.4 M49.25 289.93 h2.4 M49.25 277.3 h2.4 M49.25 264.68 h2.4 M49.25 252.06 h4.4 M49.25 239.44 h2.4 M49.25 226.82 h2.4 M49.25 214.19 h2.4 M49.25 201.57 h2.4 M49.25 176.33 h2.4 M49.25 163.71 h2.4 M49.25 151.08 h2.4 M49.25 138.46 h2.4 M49.25 125.84 h4.4 M49.25 113.22 h2.4 M49.25 100.6 h2.4 M49.25 87.97 h2.4 M49.25 75.35 h2.4 M49.25 62.73 h4.4 M49.25 50.11 h2.4 M49.25 37.49 h2.4" stroke-width="0.9" stroke="#111"/>
</g>
<g font-family="'Liberation Serif', serif" fill="#000">
<text x="45.6" y="69.13" font-size="18.6" text-anchor="end">0.02</text>
<text x="45.6" y="132.24" font-size="18.6" text-anchor="end">0.01</text>
<text x="45.6" y="258.46" font-size="18.6" text-anchor="end">0.01</text>
<text transform="translate(13.0 258.46) scale(1.2 1)" font-size="18.6" text-anchor="end">−</text>
<text x="45.6" y="321.57" font-size="18.6" text-anchor="end">0.02</text>
<text transform="translate(13.0 321.57) scale(1.2 1)" font-size="18.6" text-anchor="end">−</text>
<text x="123.58" y="209.5" font-size="18.6" text-anchor="middle">5</text>
<text x="197.6" y="209.5" font-size="18.6" text-anchor="middle">10</text>
<text x="271.62" y="209.5" font-size="18.6" text-anchor="middle">15</text>
<text x="345.65" y="209.5" font-size="18.6" text-anchor="middle">20</text>
<text x="419.68" y="209.5" font-size="18.6" text-anchor="middle">25</text>
<text x="493.7" y="209.5" font-size="18.6" text-anchor="middle">30</text>
<text x="19.5" y="18.5" font-size="20.2">Re</text>
<text x="43.0" y="18.9" font-size="20.9">[</text>
<g stroke="#000" fill="none" stroke-linecap="round"><title>χ</title><path d="M52.7 11.3 C53.2 9.5 55.0 9.0 55.6 11.0 L57.8 21.2 C58.2 23.1 59.8 23.2 60.8 20.8" stroke-width="1.45"/><path d="M63.2 9.4 L50.0 22.8" stroke-width="0.8"/></g>
<text x="64.4" y="22.3" font-size="13">1</text>
<text x="71.5" y="18.9" font-size="20.9">]</text>
<text transform="translate(502.7 195) scale(1.2 1)" font-size="19.6" font-style="italic">r</text>
<text x="513.1" y="187.8" font-size="14.8">2</text>
<path d="M511.9 195.4 V200.3 M514.4 195.4 V200.3" stroke="#000" stroke-width="0.85" fill="none"><title>‖</title></path>
<text x="175.3" y="314.15" font-size="15.7" font-weight="bold">Br</text>
<text transform="translate(196.2 314.15) scale(1.2 1)" font-size="15.7" font-weight="bold">=</text>
<text x="210.65" y="314.15" font-size="15.7" font-weight="bold">10</text>
<text x="241.4" y="314.15" font-size="15.7" font-weight="bold">Summed up to the 14th threshold.</text>
</g>
</svg>
</body></html>
